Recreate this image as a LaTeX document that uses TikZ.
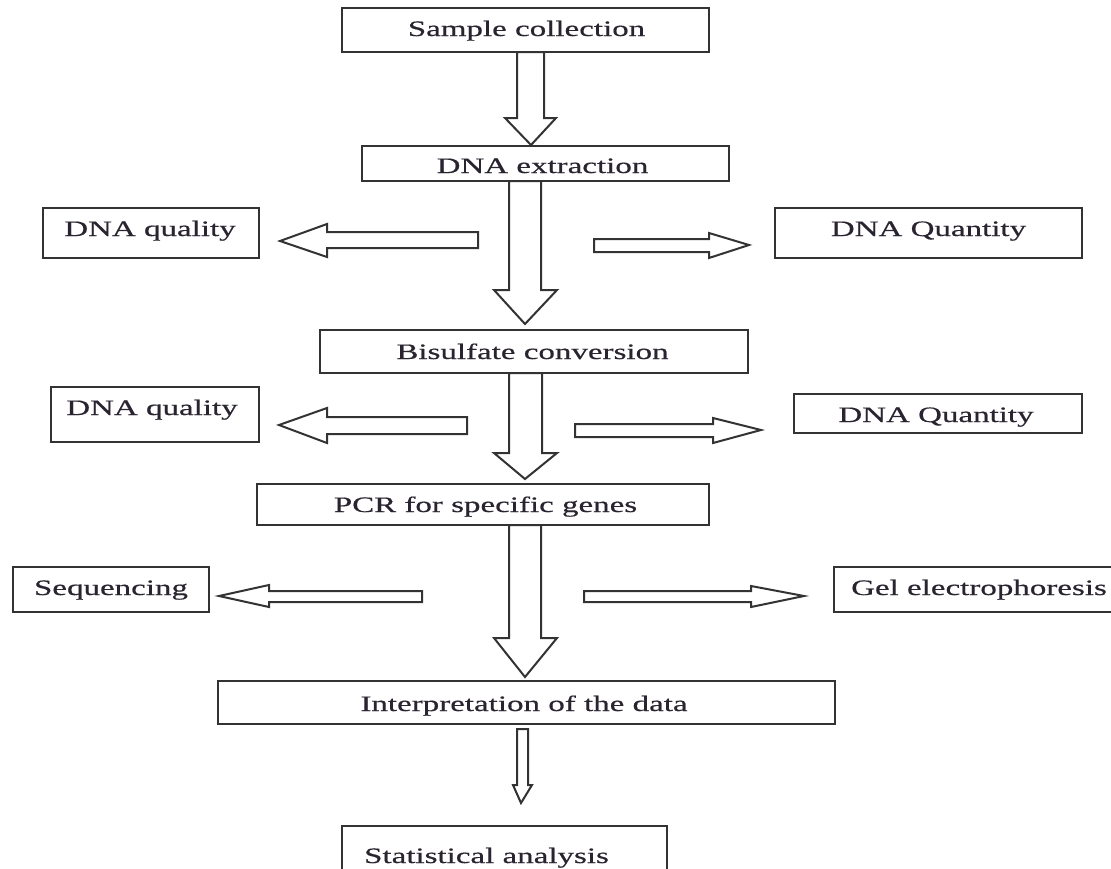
\documentclass[tikz,border=0pt]{standalone}
\usepackage{fontspec}
\newfontfamily\wfont[FakeStretch=1.5,FakeBold=0.5]{Liberation Serif}
\definecolor{ln}{HTML}{333333}
\definecolor{tx}{HTML}{2A2430}
\tikzset{
  box/.style={draw=ln, line width=2pt, fill=white, rectangle, inner sep=0pt, outer sep=0pt},
  lbl/.style={anchor=base, inner sep=0pt, text=tx, font=\wfont\fontsize{22}{26}\selectfont},
  barrow/.style={draw=ln, line width=2pt, fill=white, line join=miter}
}
% vertical block arrow: shaft xl, shaft xr, top y, head-base y, head xl, head xr, tip x, tip y
\newcommand\vblock[8]{\draw[barrow] (#1,#3) -- (#1,#4) -- (#5,#4) -- (#7,#8) -- (#6,#4) -- (#2,#4) -- (#2,#3) -- cycle;}
% horizontal block arrow: tail x, shaft y1, shaft y2, head-base x, head y1, head y2, tip x, tip y
\newcommand\hblock[8]{\draw[barrow] (#1,#2) -- (#4,#2) -- (#4,#5) -- (#7,#8) -- (#4,#6) -- (#4,#3) -- (#1,#3) -- cycle;}
\begin{document}
\begin{tikzpicture}[x=1pt,y=-1pt]
\useasboundingbox (0,0) rectangle (1111,868);
\clip (0,0) rectangle (1111,868);
\fill[white] (0,0) rectangle (1111,868);

% block arrows (drawn first, boxes over them)
\vblock{517}{544}{52}{118}{505}{556}{531}{145}
\vblock{509}{541}{181}{290}{494}{557}{525}{324}
\vblock{509}{542}{373}{453}{494}{557}{525}{479}
\vblock{509}{541}{525}{638}{494}{557}{525}{677}
\vblock{517}{528}{729}{785}{513}{532}{521}{803}

\hblock{478}{232}{248}{327}{224}{257}{280}{241}
\hblock{594}{239}{252}{709}{233}{258}{749}{245}
\hblock{467}{417}{434}{327}{408}{443}{279}{425}
\hblock{575}{424}{437}{713}{418}{443}{761}{430}
\hblock{422}{591}{602}{269}{585}{607}{219}{596}
\hblock{584}{591}{602}{751}{586}{607}{804}{596}

% boxes
\node[box, minimum width=367pt, minimum height=44pt] (b1) at (525.5,30) {};
\node[box, minimum width=367pt, minimum height=35pt] (b2) at (545.5,163.5) {};
\node[box, minimum width=216pt, minimum height=50pt] (q1) at (151,233) {};
\node[box, minimum width=307pt, minimum height=50pt] (n1) at (928.5,233) {};
\node[box, minimum width=428pt, minimum height=43pt] (b3) at (534,351.5) {};
\node[box, minimum width=208pt, minimum height=55pt] (q2) at (155,414.5) {};
\node[box, minimum width=288pt, minimum height=39pt] (n2) at (938,413.5) {};
\node[box, minimum width=452pt, minimum height=41pt] (b4) at (483,504.5) {};
\node[box, minimum width=196pt, minimum height=45pt] (seq) at (111,589.5) {};
\node[box, minimum width=290pt, minimum height=45pt] (gel) at (979,589.5) {};
\node[box, minimum width=617pt, minimum height=43pt] (b5) at (526.5,702.5) {};
\node[box, minimum width=325pt, minimum height=64pt] (stat) at (504.5,858) {};

% labels
\node[lbl] (t1) at (526.5,36) {Sample collection};
\node[lbl] (t2) at (542.5,173) {DNA extraction};
\node[lbl] (tq1) at (150,236) {DNA quality};
\node[lbl] (tn1) at (928.5,236) {DNA Quantity};
\node[lbl] (t3) at (532.5,359) {Bisulfate conversion};
\node[lbl] (tq2) at (152,415) {DNA quality};
\node[lbl] (tn2) at (936,422) {DNA Quantity};
\node[lbl] (t4) at (485.5,512) {PCR for specific genes};
\node[lbl] (tseq) at (111,595) {Sequencing};
\node[lbl] (tgel) at (979,595) {Gel electrophoresis};
\node[lbl] (t5) at (524,711) {Interpretation of the data};
\node[lbl] (tstat) at (486.5,863) {Statistical analysis};
\end{tikzpicture}
\end{document}
